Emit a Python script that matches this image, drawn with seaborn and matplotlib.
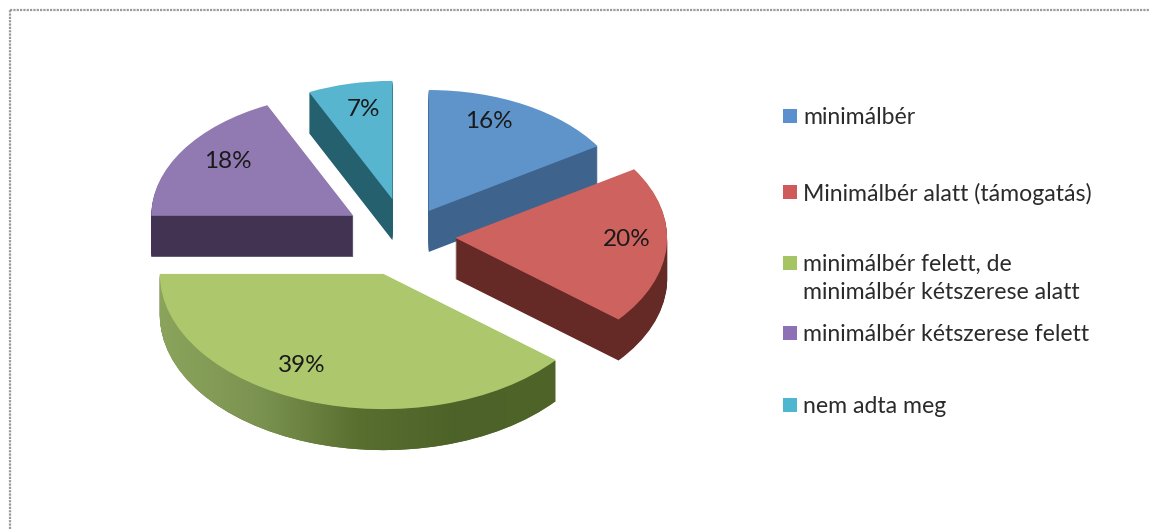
import numpy as np
import matplotlib
matplotlib.use("Agg")
import matplotlib.pyplot as plt
from matplotlib.path import Path
from matplotlib.patches import Rectangle
from matplotlib.colors import LinearSegmentedColormap
import seaborn as sns

# values
categories = [
    "minimálbér",
    "Minimálbér alatt (támogatás)",
    "minimálbér felett, de\nminimálbér kétszerese alatt",
    "minimálbér kétszerese felett",
    "nem adta meg",
]
shares = [16, 20, 39, 18, 7]

top_colors = ["#5f94cb", "#cd625e", "#adc76c", "#9179b2", "#57b5cf"]
side_colors = ["#3e638c", "#652a26", "#5a7233", "#433353", "#25606f"]
legend_colors = ["#5b8fce", "#d0595a", "#a5c464", "#8d70b5", "#4fb6cf"]
explode = [0.22, 0.23, 0.31, 0.29, 0.29]
wedge_radius = [0.93, 0.985, 1.04, 0.94, 0.91]

legend_y = [116, 192, 263, 333, 405]
legend_font = "Lato"

# pixel geometry of the ellipse
W, H = 1149, 529
cx, cy = 406, 236
rx, ry = 215, 130
depth_px = 41

sns.set_theme(style="white")
plt.rcParams["font.family"] = [legend_font, "DejaVu Sans"]

fig = plt.figure(figsize=(W / 100, H / 100), dpi=100, facecolor="white")
ax = fig.add_axes([0, 0, 1, 1])


def draw_pie(colors, shift_px, zorder):
    wedges, _ = ax.pie(shares, explode=explode, colors=colors, startangle=90,
                       counterclock=False, center=(0, -shift_px / ry),
                       wedgeprops={"linewidth": 0, "zorder": zorder})
    for w, r in zip(wedges, wedge_radius):
        w.set_radius(r)
    return wedges


# side of the slices: darker copies stacked downwards
green_layers = []
for shift in range(depth_px, 0, -1):
    layer = draw_pie(side_colors, shift, 1)
    green_layers.append(layer[2])
tops = draw_pie(top_colors, 0, 3)

# green slice has a gradient along its side
green_path = Path.make_compound_path(*[w.get_path() for w in green_layers])
x0, y0 = green_path.vertices.min(axis=0)
x1, y1 = green_path.vertices.max(axis=0)
green_cmap = LinearSegmentedColormap.from_list(
    "green_side", ["#8ba45c", "#7b9350", "#596f30", "#4d6228", "#4f6428"])
img = ax.imshow(np.linspace(0, 1, 256)[None, :], cmap=green_cmap, aspect="auto",
                extent=(x0, x1, y0, y1), zorder=2)
img.set_clip_path(green_path, ax.transData)

ax.set_aspect("auto")
ax.set_xlim(-cx / rx, (W - cx) / rx)
ax.set_ylim((cy - H) / ry, cy / ry)
ax.axis("off")

# percent labels
label_xy = [(489, 122), (627, 239), (302, 365), (228, 161), (363, 110)]
for pct, (lx, ly) in zip(shares, label_xy):
    fig.text(lx / W, 1 - ly / H, f"{pct}%", fontsize=17.5, color="#1a1a1a",
             ha="center", va="center")

# legend, placed by hand since the spacing is uneven
for name, col, ly in zip(categories, legend_colors, legend_y):
    fig.add_artist(Rectangle((783 / W, 1 - (ly + 7) / H), 14 / W, 14 / H,
                             transform=fig.transFigure, color=col, lw=0))
    fig.text(803 / W, 1 - (ly - 9) / H, name, fontsize=16.6, color="#2b2b2b",
             ha="left", va="top", linespacing=1.4)

# outer frame, dotted grey on left and top
fig.add_artist(plt.Line2D([9.5 / W, 9.5 / W], [0, 1 - 10 / H], color="#9a9a9a",
                          lw=1.6, ls=(0, (1, 0.5))))
fig.add_artist(plt.Line2D([9.5 / W, 1], [1 - 10 / H, 1 - 10 / H], color="#9a9a9a",
                          lw=1.6, ls=(0, (1, 0.5))))

fig.savefig("out.png", dpi=100)
